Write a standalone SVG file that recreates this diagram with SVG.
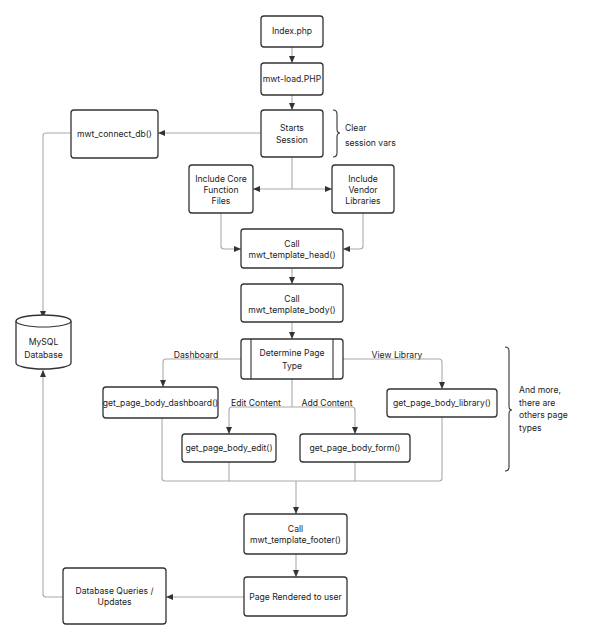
<svg xmlns="http://www.w3.org/2000/svg" width="600" height="640" viewBox="0 0 600 640">
<defs>
<marker id="ah" markerUnits="userSpaceOnUse" markerWidth="8" markerHeight="8" viewBox="0 0 8 8" refX="7" refY="4" orient="auto">
<path d="M0,1 L7,4 L0,7 Z" fill="#333"/>
</marker>
</defs>
<style>
.n{fill:#fff;stroke:#333;stroke-width:1.3}
.c{fill:none;stroke:#aaa;stroke-width:1.1;marker-end:url(#ah)}
.p{fill:none;stroke:#aaa;stroke-width:1.1}
.b{fill:none;stroke:#333;stroke-width:1.1}
text{font-family:Inter,"Liberation Sans",sans-serif;font-size:8.6px;fill:#222}
.m{text-anchor:middle}
</style>
<rect width="600" height="640" fill="#fff"/>
<g id="connectors">
<path class="c" d="M292,47 V63"/>
<path class="c" d="M292,95 V110"/>
<path class="c" d="M261,133 H158"/>
<path class="c" d="M71,133 H46 Q43,133 43,136 V318"/>
<path class="p" d="M292,157 V189"/>
<path class="c" d="M292,189 H253"/>
<path class="c" d="M292,189 H332"/>
<path class="c" d="M221,213 V246 Q221,249 224,249 H241"/>
<path class="c" d="M363,213 V246 Q363,249 360,249 H343"/>
<path class="c" d="M292,268 V284"/>
<path class="c" d="M292,322 V339"/>
<path class="c" d="M241,359 H166 Q163,359 163,362 V387"/>
<path class="c" d="M343,359 H439 Q442,359 442,362 V389"/>
<path class="p" d="M292,379 V407"/>
<path class="c" d="M292,407 H232 Q229,407 229,410 V434"/>
<path class="c" d="M292,407 H352 Q355,407 355,410 V434"/>
<path class="p" d="M162,418 V478 Q162,481 165,481 H439 Q442,481 442,478 V417"/>
<path class="p" d="M229,462 V481"/>
<path class="p" d="M355,462 V481"/>
<path class="c" d="M296,481 V514"/>
<path class="c" d="M296,554 V577"/>
<path class="c" d="M244,597 H166"/>
<path class="c" d="M63,597 H46 Q43,597 43,594 V370"/>
</g>
<g id="index"><rect class="n" x="261" y="16" width="62" height="31" rx="3"/><text class="m" x="292" y="34">Index.php</text></g>
<g id="load"><rect class="n" x="261" y="63" width="62" height="32" rx="3"/><text class="m" x="292" y="82">mwt-load.PHP</text></g>
<g id="session"><rect class="n" x="261" y="110" width="62" height="47" rx="3"/><text class="m" x="292" y="131">Starts</text><text class="m" x="292" y="143">Session</text></g>
<g id="clear-note"><path class="b" d="M333,110 Q337,110 337,114 V129 Q337,133 340,133 Q337,133 337,137 V153 Q337,157 333,157"/><text x="345" y="131">Clear</text><text x="345" y="146">session vars</text></g>
<g id="connect-db"><rect class="n" x="71" y="110" width="87" height="48" rx="3"/><text class="m" x="114.5" y="137">mwt_connect_db()</text></g>
<g id="core"><rect class="n" x="189" y="165" width="64" height="48" rx="3"/><text class="m" x="221" y="182">Include Core</text><text class="m" x="221" y="193">Function</text><text class="m" x="221" y="204">Files</text></g>
<g id="vendor"><rect class="n" x="332" y="165" width="62" height="48" rx="3"/><text class="m" x="363" y="182">Include</text><text class="m" x="363" y="193">Vendor</text><text class="m" x="363" y="204">Libraries</text></g>
<g id="head"><rect class="n" x="241" y="229" width="102" height="39" rx="3"/><text class="m" x="292" y="247">Call</text><text class="m" x="292" y="258">mwt_template_head()</text></g>
<g id="body"><rect class="n" x="241" y="284" width="102" height="38" rx="3"/><text class="m" x="292" y="302">Call</text><text class="m" x="292" y="313">mwt_template_body()</text></g>
<g id="mysql"><path class="n" d="M16,321 A27.5,6 0 0 1 71,321 V363 A27.5,6 0 0 1 16,363 Z"/><path class="b" d="M16,321 A27.5,6 0 0 0 71,321"/><text class="m" x="43.5" y="345">MySQL</text><text class="m" x="43.5" y="358">Database</text></g>
<g id="determine"><rect class="n" x="241" y="339" width="102" height="40" rx="3"/><path class="b" d="M251,339 V379 M333,339 V379"/><text class="m" x="292" y="356">Determine Page</text><text class="m" x="292" y="369">Type</text></g>
<g id="labels">
<text class="m" x="196" y="358">Dashboard</text>
<text class="m" x="397" y="358">View Library</text>
<text class="m" x="256" y="406">Edit Content</text>
<text class="m" x="327" y="406">Add Content</text>
</g>
<g id="dashboard"><rect class="n" x="103" y="387" width="115" height="31" rx="3"/><text class="m" x="160.5" y="406">get_page_body_dashboard()</text></g>
<g id="library"><rect class="n" x="387" y="389" width="110" height="28" rx="3"/><text class="m" x="442" y="406">get_page_body_library()</text></g>
<g id="edit"><rect class="n" x="182" y="434" width="94" height="28" rx="3"/><text class="m" x="229" y="451">get_page_body_edit()</text></g>
<g id="form"><rect class="n" x="300" y="434" width="110" height="28" rx="3"/><text class="m" x="355" y="451">get_page_body_form()</text></g>
<g id="more-note"><path class="b" d="M505,347 Q509,347 509,351 V406 Q509,410 512,410 Q509,410 509,414 V467 Q509,471 505,471"/><text x="519" y="393">And more,</text><text x="519" y="406">there are</text><text x="519" y="418">others page</text><text x="519" y="431">types</text></g>
<g id="footer"><rect class="n" x="244" y="514" width="103" height="40" rx="3"/><text class="m" x="295.5" y="532">Call</text><text class="m" x="295.5" y="543">mwt_template_footer()</text></g>
<g id="rendered"><rect class="n" x="244" y="577" width="103" height="39" rx="3"/><text class="m" x="295.5" y="600">Page Rendered to user</text></g>
<g id="queries"><rect class="n" x="63" y="568" width="103" height="56" rx="3"/><text class="m" x="114.5" y="594">Database Queries /</text><text class="m" x="114.5" y="605">Updates</text></g>
</svg>
